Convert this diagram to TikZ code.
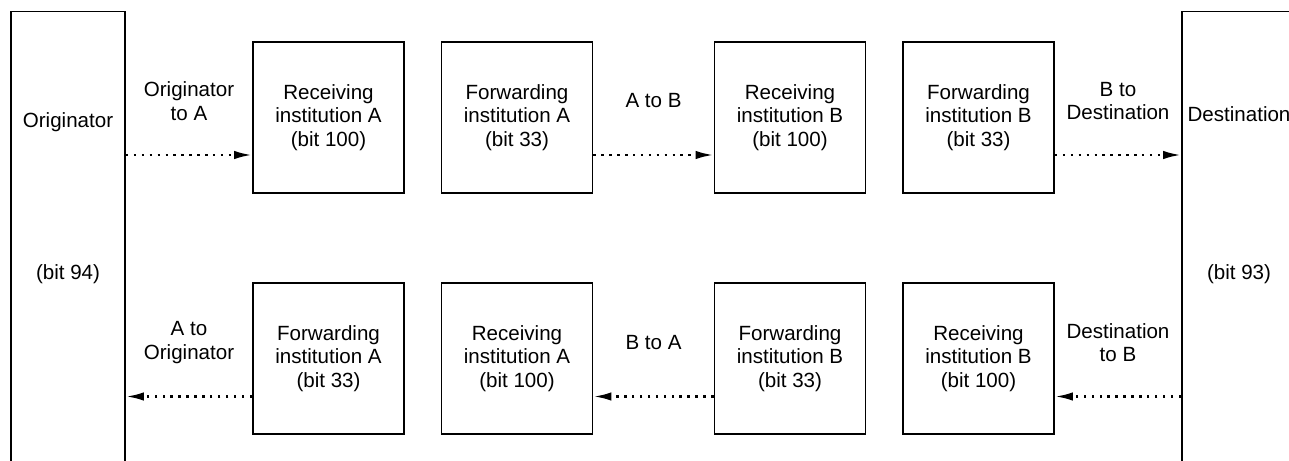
\documentclass[tikz,border=0pt]{standalone}
\usepackage{fontspec}
\setmainfont{Liberation Sans}
\usepackage{tikz}
\usetikzlibrary{arrows.meta,positioning,calc}
\tikzset{
  inst/.style  ={rectangle,draw,line width=1.1pt,minimum size=30.2mm,inner sep=0pt,align=center},
  party/.style ={rectangle,draw,line width=1.1pt,minimum width=22.8mm,minimum height=100mm,inner sep=0pt},
  flow/.style  ={line width=1.4pt,dash pattern=on 1.4pt off 3.1pt,-{Latex[length=3.6mm,width=1.7mm]}},
  lbl/.style   ={align=center,yshift=10.8mm},
}

\begin{document}
\begin{tikzpicture}[font=\fontsize{11.7}{13.4}\selectfont]
  \useasboundingbox (0,0) rectangle (25.78,-9.22);
  \clip (0,0) rectangle (25.78,-9.22);
  % end points, cut by the page edge
  \node[party](orig) at (1.36,-5.23){};  \node[party](dest) at (24.78,-5.23){};
  \node(origname) at (1.36,-2.44){Originator}; \node(origbit) at (1.36,-5.48){(bit 94)};
  \node(destname) at (24.78,-2.29){Destination}; \node(destbit) at (24.78,-5.48){(bit 93)};
  % outgoing row
  \node[inst](ra1) at (6.57,-2.35){Receiving\\institution A\\(bit 100)};
  \node[inst](fa1) at (10.34,-2.35){Forwarding\\institution A\\(bit 33)};
  \node[inst](rb1) at (15.80,-2.35){Receiving\\institution B\\(bit 100)};
  \node[inst](fb1) at (19.57,-2.35){Forwarding\\institution B\\(bit 33)};
  % return row
  \node[inst](fa2) at (6.57,-7.17){Forwarding\\institution A\\(bit 33)};
  \node[inst](ra2) at (10.34,-7.17){Receiving\\institution A\\(bit 100)};
  \node[inst](fb2) at (15.80,-7.17){Forwarding\\institution B\\(bit 33)};
  \node[inst](rb2) at (19.57,-7.17){Receiving\\institution B\\(bit 100)};
  \coordinate(top) at (0,-3.10); \coordinate(bot) at (0,-7.93);
  \foreach \a/\b/\t in {orig/ra1/{Originator\\to A},fa1/rb1/{A to B},fb1/dest/{B to\\Destination}}
    {\draw[flow](\a.east |- top) -- node[lbl]{\t} (\b.west |- top);}
  \foreach \a/\b/\t in {fa2/orig/{A to\\Originator},fb2/ra2/{B to A},dest/rb2/{Destination\\to B}}
    {\draw[flow](\a.west |- bot) -- node[lbl]{\t} (\b.east |- bot);}
\end{tikzpicture}
\end{document}
